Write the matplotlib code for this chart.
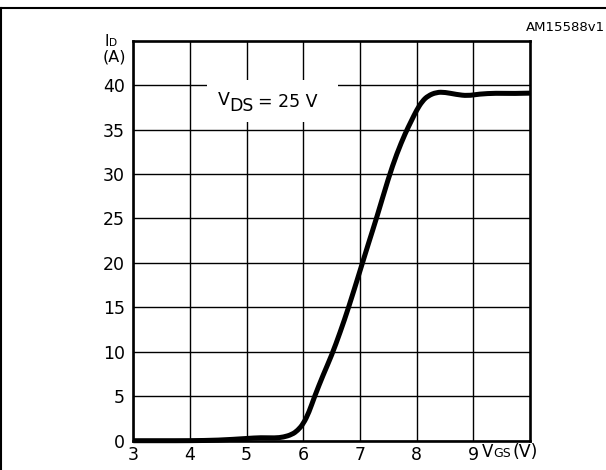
import numpy as np
import matplotlib
matplotlib.use("Agg")
from matplotlib import pyplot as plt
from matplotlib.lines import Line2D
from matplotlib.patches import Rectangle, PathPatch
from matplotlib.path import Path

# transfer characteristic
vgs = [3.0, 3.5, 4.0, 4.5, 5.0, 5.25, 5.5, 5.65, 5.8, 5.9, 6.0, 6.1, 6.2,
       6.35, 6.5, 6.65, 6.8, 7.0, 7.15, 7.3, 7.5, 7.65, 7.8, 7.9, 8.0,
       8.1, 8.2, 8.35, 8.5, 8.7, 8.9, 9.1, 9.4, 9.7, 10.0]
i_d = [0.0, 0.0, 0.0, 0.05, 0.25, 0.35, 0.3, 0.4, 0.7, 1.15, 1.9, 3.2, 5.0,
       7.4, 9.6, 12.2, 15.0, 19.1, 22.2, 25.2, 29.5, 32.3, 34.6, 35.9, 37.2,
       38.2, 38.8, 39.2, 39.2, 38.95, 38.8, 39.0, 39.1, 39.05, 39.1]

x_ticks = [3, 4, 5, 6, 7, 8, 9]
y_ticks = [0, 5, 10, 15, 20, 25, 30, 35, 40]

W, H = 606, 470
fig = plt.figure(figsize=(W / 100, H / 100), dpi=100)
plt.rcParams['font.family'] = ['DejaVu Sans']

# axes box in pixels: left 133, right 530, top 41, bottom 441
ax = fig.add_axes([133.3 / W, 1 - 440.7 / H, (530 - 133.3) / W, (440.7 - 40.7) / H])
ax.set_xlim(3, 10)
ax.set_ylim(0, 45)
ax.set_xticks(x_ticks)
ax.set_yticks(y_ticks)
ax.tick_params(length=0, labelsize=12.5, colors='black')
ax.tick_params(axis='y', pad=6)
ax.tick_params(axis='x', pad=4)
ax.grid(True, color='black', linewidth=1.0)
ax.set_axisbelow(True)
for s in ax.spines.values():
    s.set_linewidth(1.9)
    s.set_zorder(5)

# white box behind the V_DS label (hides the grid)
ax.add_patch(Rectangle((4.295, 35.81), 6.616 - 4.295, 40.62 - 35.81,
                       facecolor='white', edgecolor='none', zorder=1.5))
ax.text(4.494, 37.80, 'V', fontsize=12.5, va='baseline', ha='left', zorder=3)
ax.text(4.69, 37.13, 'DS', fontsize=12.5, va='baseline', ha='left', zorder=3)
ax.text(5.20, 37.54, '= 25 V', fontsize=12.5, va='baseline', ha='left', zorder=3)

# smooth curve: read points used as quadratic spline control points
pts = list(zip(vgs, i_d))
verts = [pts[0]]
codes = [Path.MOVETO]
for k in range(1, len(pts) - 2):
    mid = ((pts[k][0] + pts[k + 1][0]) / 2, (pts[k][1] + pts[k + 1][1]) / 2)
    verts += [pts[k], mid]
    codes += [Path.CURVE3, Path.CURVE3]
verts += [pts[-2], pts[-1]]
codes += [Path.CURVE3, Path.CURVE3]
curve = PathPatch(Path(verts, codes), facecolor='none', edgecolor='black',
                  linewidth=3.6, capstyle='butt', joinstyle='round',
                  zorder=4, clip_on=False)
ax.add_patch(curve)

# axis labels
fig.text(104 / W, 1 - 45.7 / H, 'I', fontsize=11, va='baseline', ha='left')
fig.text(109 / W, 1 - 45.7 / H, 'D', fontsize=7.6, va='baseline', ha='left')
fig.text(114.5 / W, 1 - 61.5 / H, '(A)', fontsize=11.5, va='baseline', ha='center')
fig.text(482 / W, 1 - 456.7 / H, 'V', fontsize=12, va='baseline', ha='left')
fig.text(493 / W, 1 - 456.7 / H, 'GS', fontsize=9, va='baseline', ha='left')
fig.text(512 / W, 1 - 456.7 / H, '(V)', fontsize=12.5, va='baseline', ha='left')

fig.text(605 / W, 1 - 31 / H, 'AM15588v1', fontsize=9.5, va='baseline', ha='right')

# outer frame of the figure panel
fig.add_artist(Line2D([0, 1], [1 - 7.5 / H, 1 - 7.5 / H], transform=fig.transFigure,
                      color='black', linewidth=1.5))
fig.add_artist(Line2D([1 / W, 1 / W], [0, 1 - 7.5 / H], transform=fig.transFigure,
                      color='black', linewidth=1.5))

fig.savefig('out.png', dpi=100)
